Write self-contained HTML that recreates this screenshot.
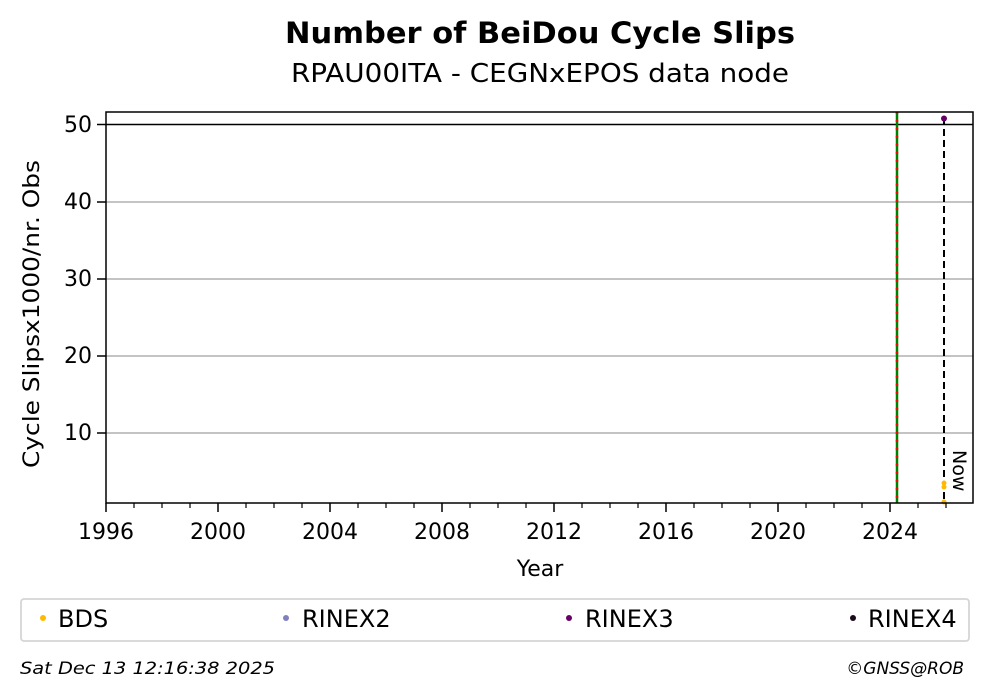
<!DOCTYPE html>
<html><head><meta charset="utf-8"><style>
html,body{margin:0;padding:0;background:#fff;}
svg{display:block;font-family:"DejaVu Sans","Liberation Sans",sans-serif;}
</style></head><body>
<svg width="993" height="699" viewBox="0 0 993 699" xmlns="http://www.w3.org/2000/svg">
<rect width="993" height="699" fill="#fff"/>
<text x="540" y="43" text-anchor="middle" font-size="29" font-weight="bold" textLength="510" lengthAdjust="spacingAndGlyphs">Number of BeiDou Cycle Slips</text>
<text x="540" y="82" text-anchor="middle" font-size="26" textLength="498" lengthAdjust="spacingAndGlyphs">RPAU00ITA - CEGNxEPOS data node</text>
<g stroke="#b0b0b0" stroke-width="1.5">
<line x1="106" y1="202" x2="973" y2="202"/>
<line x1="106" y1="279" x2="973" y2="279"/>
<line x1="106" y1="356" x2="973" y2="356"/>
<line x1="106" y1="433" x2="973" y2="433"/>
</g>
<line x1="106" y1="124.5" x2="973" y2="124.5" stroke="#000" stroke-width="1.5"/>
<line x1="897" y1="112" x2="897" y2="503" stroke="green" stroke-width="2.5"/>
<line x1="897" y1="112" x2="897" y2="503" stroke="red" stroke-width="2.5" stroke-dasharray="2,6"/>
<line x1="944" y1="118" x2="944" y2="503" stroke="#000" stroke-width="2" stroke-dasharray="7,4"/>
<circle cx="944" cy="118.5" r="3" fill="#660066"/>
<circle cx="944" cy="483" r="2.5" fill="#ffb900"/>
<circle cx="944" cy="487" r="2.5" fill="#ffb900"/>
<circle cx="944" cy="502" r="2.5" fill="#ffb900"/>
<text x="0" y="0" font-size="19" transform="translate(953,450) rotate(90)">Now</text>
<rect x="106" y="112" width="867" height="391" fill="none" stroke="#000" stroke-width="1.5"/>
<g stroke="#000" stroke-width="1.5">
<line x1="97" y1="124.5" x2="106" y2="124.5"/>
<line x1="97" y1="202" x2="106" y2="202"/>
<line x1="97" y1="279" x2="106" y2="279"/>
<line x1="97" y1="356" x2="106" y2="356"/>
<line x1="97" y1="433" x2="106" y2="433"/>
</g>
<g font-size="22" text-anchor="end">
<text x="92" y="132">50</text>
<text x="92" y="209">40</text>
<text x="92" y="286">30</text>
<text x="92" y="363">20</text>
<text x="92" y="440">10</text>
</g>
<text font-size="22" text-anchor="middle" transform="translate(39,314) rotate(-90)" textLength="308" lengthAdjust="spacingAndGlyphs">Cycle Slipsx1000/nr. Obs</text>
<g stroke="#000" stroke-width="1.5">
<line x1="106" y1="503" x2="106" y2="512"/><line x1="218" y1="503" x2="218" y2="512"/><line x1="330" y1="503" x2="330" y2="512"/><line x1="442" y1="503" x2="442" y2="512"/><line x1="554" y1="503" x2="554" y2="512"/><line x1="666" y1="503" x2="666" y2="512"/><line x1="778" y1="503" x2="778" y2="512"/><line x1="890" y1="503" x2="890" y2="512"/>
</g>
<g stroke="#000" stroke-width="1.2">
<path d="M134 503v5M162 503v5M190 503v5M246 503v5M274 503v5M302 503v5M358 503v5M386 503v5M414 503v5M470 503v5M498 503v5M526 503v5M582 503v5M610 503v5M638 503v5M694 503v5M722 503v5M750 503v5M806 503v5M834 503v5M862 503v5M918 503v5M946 503v5"/>
</g>
<g font-size="22" text-anchor="middle">
<text x="106" y="539">1996</text><text x="218" y="539">2000</text><text x="330" y="539">2004</text><text x="442" y="539">2008</text><text x="554" y="539">2012</text><text x="666" y="539">2016</text><text x="778" y="539">2020</text><text x="890" y="539">2024</text>
</g>
<text x="540" y="576" font-size="22" text-anchor="middle">Year</text>
<rect x="21" y="599" width="948" height="42" rx="3" fill="#fff" stroke="#d5d5d5" stroke-width="1.8"/>
<g font-size="24">
<circle cx="43" cy="618" r="3" fill="#ffb900"/><text x="58" y="627">BDS</text>
<circle cx="286" cy="618" r="3" fill="#8080c0"/><text x="302" y="627">RINEX2</text>
<circle cx="569" cy="618" r="3" fill="#660066"/><text x="585" y="627">RINEX3</text>
<circle cx="853" cy="618" r="3" fill="#1a0a1a"/><text x="868" y="627">RINEX4</text>
</g>
<text x="20" y="674" font-size="17" font-style="italic" textLength="255" lengthAdjust="spacingAndGlyphs">Sat Dec 13 12:16:38 2025</text>
<text x="964" y="674" font-size="17" font-style="italic" text-anchor="end">©GNSS@ROB</text>
</svg>
</body></html>
